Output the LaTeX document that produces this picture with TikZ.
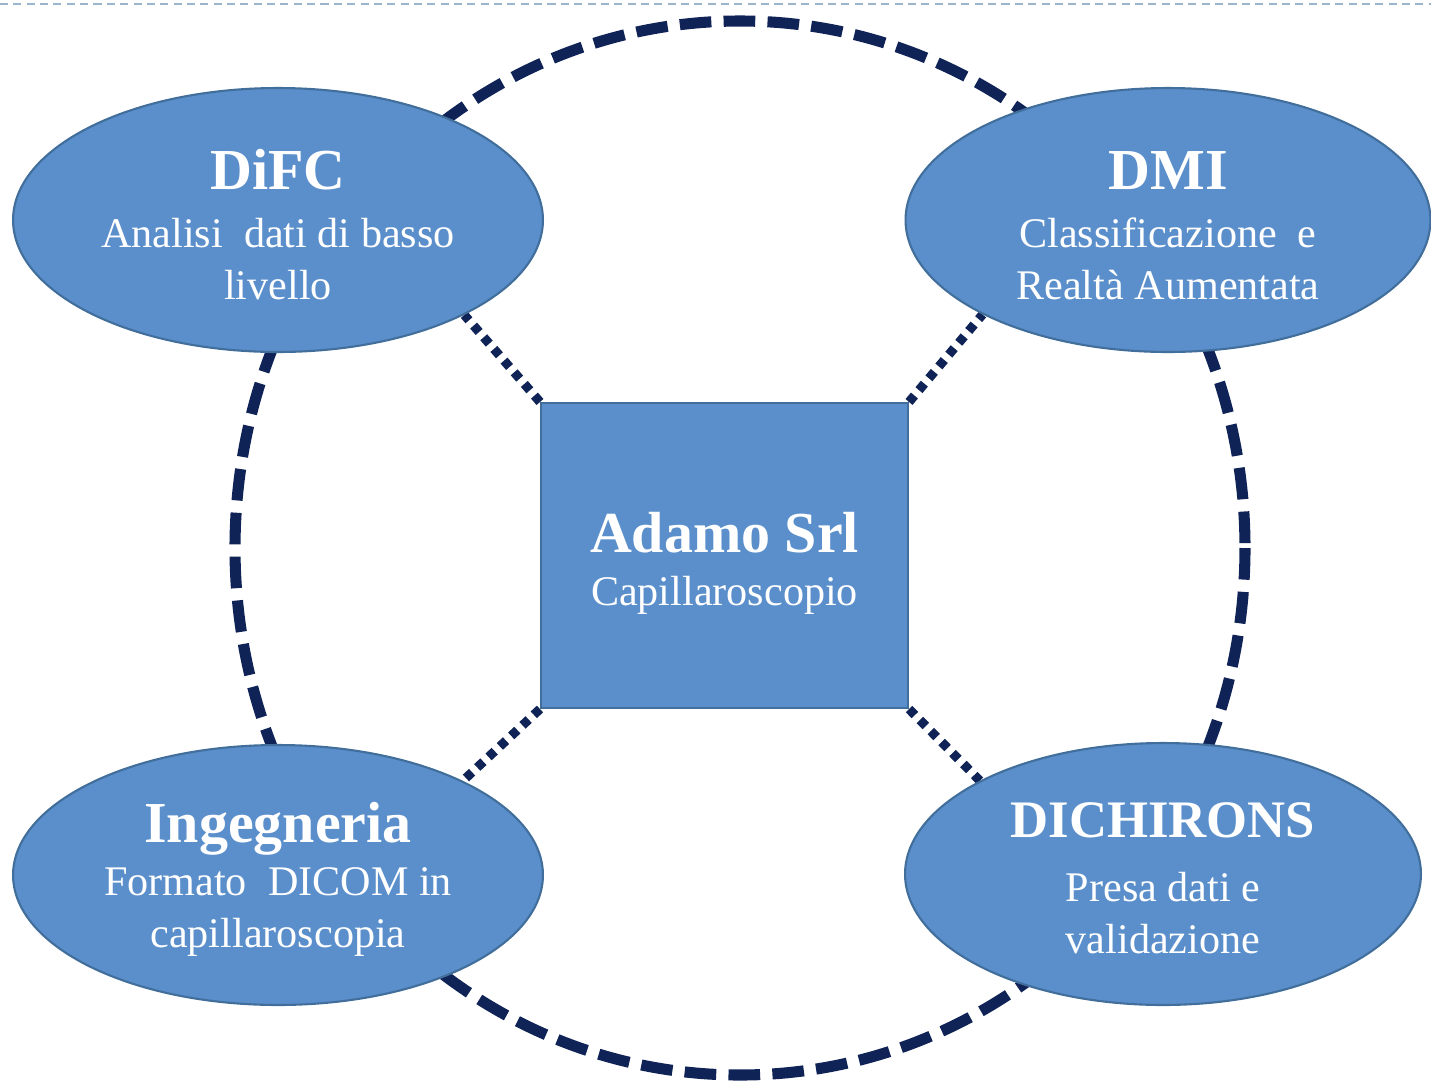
\documentclass[tikz,border=0pt]{standalone}
\usepackage{fontspec}
\setmainfont{Liberation Serif}
\usetikzlibrary{shapes.geometric,backgrounds}
\definecolor{boxblue}{RGB}{91,143,203}
\definecolor{boxedge}{RGB}{65,110,155}
\definecolor{navy}{RGB}{16,35,86}
\definecolor{topline}{RGB}{157,180,205}
\tikzset{
  unit/.style={ellipse, fill=boxblue, draw=boxedge, line width=1.2pt, inner sep=0pt,
    text=white, align=center, font=\fontsize{24}{30}\selectfont},
  center/.style={rectangle, fill=boxblue, draw=boxedge, line width=1.2pt, inner sep=0pt,
    text=white, align=center, font=\fontsize{24}{30}\selectfont},
  ring/.style={draw=navy, line width=6.3pt, dash pattern=on 18pt off 7pt},
  link/.style={draw=navy, line width=5.2pt, dash pattern=on 4.8pt off 4pt}
}
\newcommand{\ttlfont}{\fontsize{33}{31}\selectfont\bfseries}
\begin{document}
\begin{tikzpicture}[x=0.02cm,y=-0.02cm]
\useasboundingbox (0,0) rectangle (1431,1083);
\draw[topline, line width=1.4pt, dash pattern=on 4.6pt off 3pt] (0,4) -- (1431,4);

\node[unit, minimum width=10.6cm, minimum height=5.28cm] (difc) at (278,220)
  {{\ttlfont\rule{0pt}{28pt}DiFC}\\[3pt]Analisi\ \ dati di basso\\livello};
\node[unit, minimum width=10.5cm, minimum height=5.28cm] (dmi) at (1168,220)
  {{\ttlfont\rule{0pt}{28pt}DMI}\\[3pt]Classificazione\ \ e\\Realtà Aumentata};
\node[unit, minimum width=10.6cm, minimum height=5.2cm] (ing) at (278,875)
  {{\ttlfont\rule{0pt}{28pt}Ingegneria}\\Formato\ \ DICOM in\\capillaroscopia};
\node[unit, minimum width=10.32cm, minimum height=5.24cm] (dich) at (1163,874)
  {{\fontsize{30}{31}\selectfont\bfseries\rule{0pt}{25pt}DICHIRONS}\\[6pt]Presa dati e\\validazione};
\node[center, minimum width=7.34cm, minimum height=6.1cm] (sq) at (724.5,555.5)
  {{\ttlfont\rule{0pt}{32pt}Adamo Srl}\\Capillaroscopio};

\begin{pgfonlayer}{background}
  \coordinate (ringc) at (740,548);
  \draw[ring] (ringc) ellipse [x radius=505, y radius=527];
  \draw[link] (sq.north west) -- (difc.-27);
  \draw[link] (sq.north east) -- (dmi.-153);
  \draw[link] (sq.south west) -- (ing.27);
  \draw[link] (sq.south east) -- (dich.153);
\end{pgfonlayer}
\end{tikzpicture}
\end{document}
